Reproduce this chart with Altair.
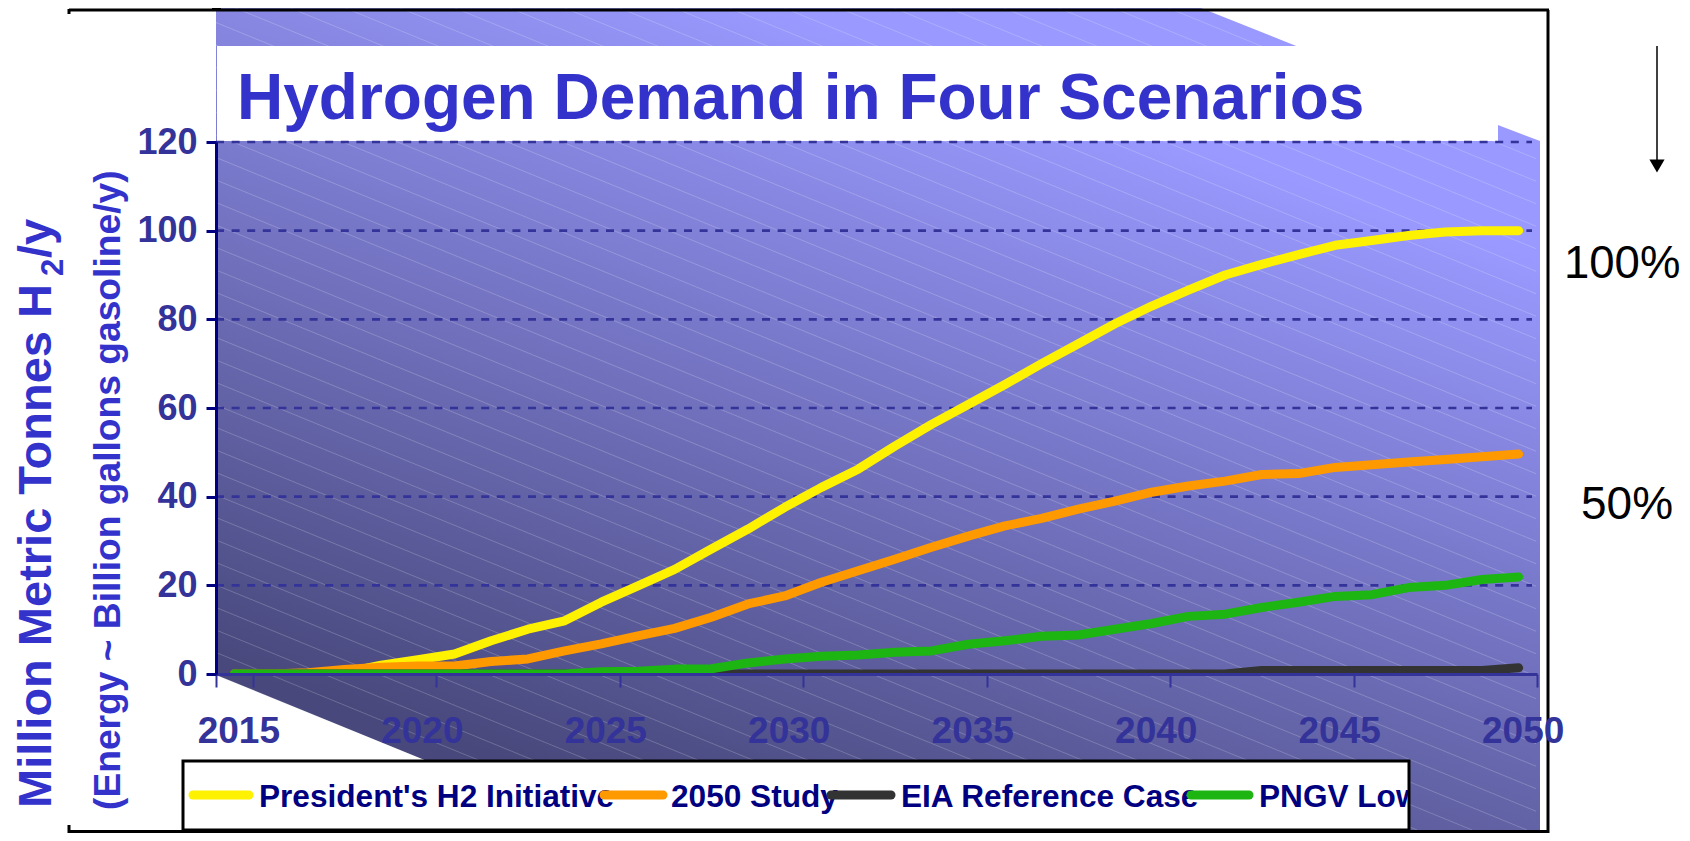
import altair as alt
import pandas as pd

years = list(range(2015, 2051))
tick_years = [2015, 2020, 2025, 2030, 2035, 2040, 2045, 2050]
y_ticks = [0, 20, 40, 60, 80, 100, 120]

president = [0, 0, 0, 0.3, 2, 3.2, 4.5, 7.5, 10.1, 12, 16.2, 19.9, 23.6, 28.2, 32.7, 37.6, 42.1, 46.2, 51.4, 56.3, 60.8,
             65.3, 70, 74.5, 79, 83, 86.6, 90, 92.4, 94.6, 96.7, 97.8, 98.9, 99.7, 100, 100]
study2050 = [0, 0, 0.3, 1, 1.5, 1.8, 1.8, 2.8, 3.4, 5.2, 6.8, 8.6, 10.3, 12.8, 15.8, 17.6, 20.7, 23.3, 25.9, 28.6, 31.1,
             33.4, 35.1, 37.2, 39, 41, 42.4, 43.5, 45, 45.2, 46.6, 47.2, 47.8, 48.4, 49, 49.6]
eia = [0] * 28 + [0.8, 0.8, 0.8, 0.8, 0.8, 0.8, 0.8, 1.4]
pngv = [0, 0, 0, 0, 0, 0, 0, 0, 0, 0, 0.5, 0.6, 1.1, 1.2, 2.5, 3.4, 4, 4.3, 4.9, 5.2, 6.7,
        7.5, 8.5, 8.8, 10.1, 11.4, 13, 13.5, 15, 16.2, 17.5, 17.9, 19.5, 20, 21.3, 21.9]

names = ["President's H2 Initiative", "2050 Study", "EIA Reference Case", "PNGV Low"]
colors = ["#FFF200", "#FF9900", "#333333", "#1DB512"]
series = [president, study2050, eia, pngv]

X0, Y0 = 216, 142
PH = 532
BOTTOM = 830
def px(v): return v - X0
def py(v): return v - Y0

one = pd.DataFrame({"t": [0]})

def rect(x1, x2, y1, y2, **kw):
    return alt.Chart(one).mark_rect(**kw).encode(
        x=alt.value(px(x1)), x2=alt.value(px(x2)), y=alt.value(py(y1)), y2=alt.value(py(y2)))

def rule(x1, x2, y1, y2, **kw):
    return alt.Chart(one).mark_rule(**kw).encode(
        x=alt.value(px(x1)), x2=alt.value(px(x2)), y=alt.value(py(y1)), y2=alt.value(py(y2)))

def label(text, x, y, size, color, weight="bold", angle=0):
    return alt.Chart(pd.DataFrame({"t": [text]})).mark_text(
        font="Liberation Sans", fontSize=size, fontWeight=weight, color=color, align="left",
        baseline="alphabetic", angle=angle).encode(text="t:N", x=alt.value(px(x)), y=alt.value(py(y)))

bg = pd.DataFrame({
    "x":  [216, 427, 1201, 1409, 1409.01, 1540],
    "y":  [8, 8, 8, 91, 91, 141],
    "y2": [675, 761, 761, 761, BOTTOM, BOTTOM],
})
bg["x"] -= X0
bg["y"] -= Y0
bg["y2"] -= Y0
gradient = alt.Gradient(gradient="linear",
                        stops=[alt.GradientStop(color="#48487C", offset=0),
                               alt.GradientStop(color="#9999FF", offset=1)],
                        x1=0, y1=0.8, x2=0.42, y2=0)
bg_layer = alt.Chart(bg).mark_area(color=gradient, orient="vertical").encode(
    x=alt.X("x:Q", scale=None, axis=None),
    y=alt.Y("y:Q", scale=None, axis=None),
    y2="y2:Q")

S = 0.41
segs = []
c = 675 - S * 216
while True:
    xs = 216
    if c + S * xs < 8:
        xs = (8 - c) / S
    if xs >= 1536:
        break
    xe = min(1536, (BOTTOM - c) / S)
    yat1409 = c + S * 1409
    if yat1409 <= 761:
        segs.append((xs, c + S * xs, xe, c + S * xe))
    else:
        xm = (761 - c) / S
        if xm > xs:
            segs.append((xs, c + S * xs, xm, 761))
        if yat1409 < BOTTOM:
            segs.append((1409, yat1409, xe, c + S * xe))
    c -= 22.5
hatch = pd.DataFrame(segs, columns=["x", "y", "x2", "y2"])
hatch[["x", "x2"]] -= X0
hatch[["y", "y2"]] -= Y0
hatch_layer = alt.Chart(hatch).mark_rule(color="white", opacity=0.2, strokeWidth=1).encode(
    x=alt.X("x:Q", scale=None, axis=None), x2="x2:Q",
    y=alt.Y("y:Q", scale=None, axis=None), y2="y2:Q")

y_scale = alt.Scale(domain=[0, 120], nice=False)
x_scale = alt.Scale(type="band", domain=years, paddingInner=0, paddingOuter=0)

x_axis = alt.Axis(values=tick_years, tickBand="extent", tickExtra=False, labelAngle=0, title=None,
                  labelFont="Liberation Sans", labelFontWeight="bold", labelFontSize=37, labelColor="#333399",
                  labelPadding=26, labelBaseline="top", labelOverlap=False, labelBound=False, labelFlush=False,
                  labelOffset=4, domainColor="#333399", domainWidth=3, tickColor="#333399", tickWidth=2,
                  tickSize=13, zindex=1, grid=False)
y_axis = alt.Axis(values=y_ticks, title=None, labelFont="Liberation Sans", labelFontWeight="bold", labelFontSize=36,
                  labelColor="#333399", labelPadding=9, domainColor="#000080", domainWidth=3, tickColor="#000080",
                  tickWidth=3, tickSize=10, zindex=1, grid=False)

grid = alt.Chart(pd.DataFrame({"v": y_ticks[1:]})).mark_rule(
    color="#333399", strokeWidth=2.7, strokeDash=[8, 7.6]).encode(
    y=alt.Y("v:Q", scale=y_scale, axis=y_axis), x=alt.value(0), x2=alt.value(1316))

lines = []
for n, col, vals in zip(names, colors, series):
    df = pd.DataFrame({"year": years, "value": vals, "series": n})
    lines.append(alt.Chart(df).mark_line(color=col, strokeWidth=9, clip=True, strokeCap="round", strokeJoin="round").encode(
        x=alt.X("year:O", scale=x_scale, axis=x_axis),
        y=alt.Y("value:Q", scale=y_scale, axis=y_axis),
    ))

keys = [rule(193, 249, 795, 795, color=colors[0], strokeWidth=9, strokeCap="round"),
        rule(604, 663, 795, 795, color=colors[1], strokeWidth=9, strokeCap="round"),
        rule(831, 891, 795, 795, color=colors[2], strokeWidth=9, strokeCap="round"),
        rule(1191, 1249, 795, 795, color=colors[3], strokeWidth=9, strokeCap="round")]

layers = [
    rect(183, 1409, 761, BOTTOM, fill="white"),
    label(names[0], 259, 807, 31.6, "#000080"),
    label(names[1], 671, 807, 31.6, "#000080"),
    label(names[2], 901, 807, 31.6, "#000080"),
    label(names[3], 1259, 807, 31.6, "#000080"),
    bg_layer,
    hatch_layer,
    rect(217, 1498, 46, 141, fill="white"),
    label("Hydrogen Demand in Four Scenarios", 237, 118.5, 64, "#3333CC"),
    grid,
    *lines,
    rect(183, 1409, 761, BOTTOM, fillOpacity=0, stroke="black", strokeWidth=3),
    *keys,
    label("Million Metric Tonnes H", 51, 808, 47, "#3333CC", angle=270),
    label("2", 63, 276, 31, "#3333CC", angle=270),
    label("/y", 51, 258, 47, "#3333CC", angle=270),
    label("(Energy ~ Billion gallons gasoline/y)", 120, 810, 37.2, "#3333CC", angle=270),
    label("100%", 1564, 278, 45.5, "black", weight="normal"),
    label("50%", 1581, 519, 46, "black", weight="normal"),
    rule(1657, 1657, 46, 160, color="black", strokeWidth=1.5),
    alt.Chart(one).mark_point(shape="triangle-down", filled=True, color="black", size=230, opacity=1).encode(
        x=alt.value(px(1657)), y=alt.value(py(166))),
    rule(69, 1549, 10, 10, color="black", strokeWidth=3),
    rule(69, 1549, BOTTOM + 1.5, BOTTOM + 1.5, color="black", strokeWidth=3),
    rule(1548, 1548, 10, BOTTOM + 3, color="black", strokeWidth=3),
    rule(69, 69, 9, 14, color="black", strokeWidth=3),
    rule(69, 69, BOTTOM - 5, BOTTOM + 3, color="black", strokeWidth=3),
    rect(212, 221, 8, 10, fill="black"),
]

chart = alt.layer(*layers).properties(
    width=1321, height=PH,
    autosize=alt.AutoSizeParams(type="none"),
    padding={"left": 208, "top": 134, "right": 1674 - 208 - 1321, "bottom": 825 - 134 - PH},
).configure_view(stroke=None)
chart.save("out.html", embed_options={"renderer": "svg", "actions": False})
